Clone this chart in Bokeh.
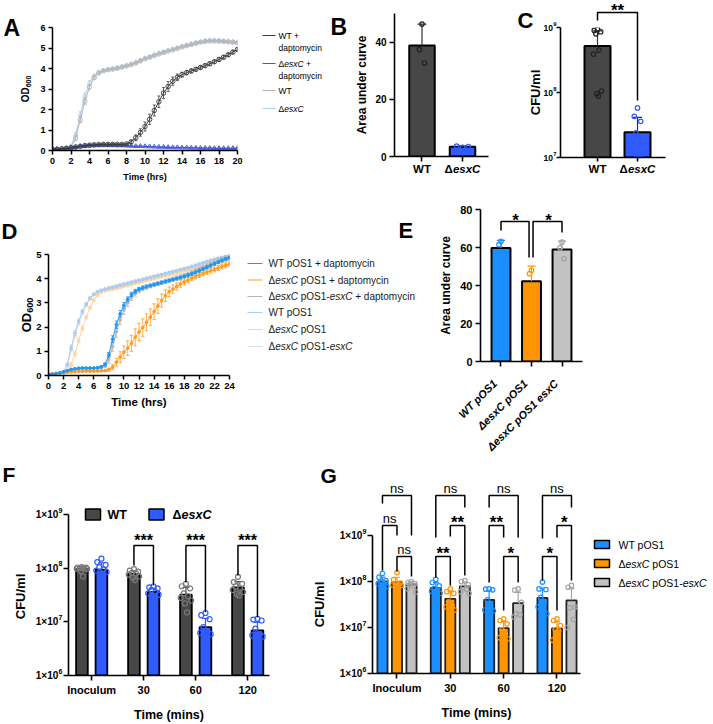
import numpy as np
from math import log10, pi
from bokeh.plotting import figure
from bokeh.layouts import column, row
from bokeh.models import FixedTicker, Range1d
from bokeh.core.properties import value
from bokeh.embed import file_html
from bokeh.resources import INLINE

FONT = "Liberation Sans"

# ------------------------------------------------------------------ data
# A: growth curves (OD600, every 0.5 h) with and without daptomycin
A_hours = np.arange(0, 20.01, 0.5)
A_wt_dap = [0.05, 0.06, 0.08, 0.10, 0.13, 0.17, 0.21, 0.24, 0.26, 0.28, 0.29, 0.30, 0.30, 0.30, 0.30, 0.30,
            0.32, 0.42, 0.62, 0.88, 1.17, 1.52, 1.95, 2.38, 2.80, 3.12, 3.38, 3.57, 3.70, 3.80, 3.88, 3.96,
            4.05, 4.14, 4.23, 4.33, 4.44, 4.55, 4.67, 4.80, 4.93]
A_wt_dap_sd = [0.01, 0.01, 0.01, 0.02, 0.02, 0.02, 0.03, 0.03, 0.03, 0.03, 0.03, 0.03, 0.03, 0.03, 0.03, 0.03,
               0.04, 0.08, 0.14, 0.18, 0.22, 0.25, 0.27, 0.28, 0.27, 0.24, 0.20, 0.16, 0.12, 0.10, 0.09, 0.08,
               0.08, 0.08, 0.08, 0.08, 0.08, 0.08, 0.08, 0.08, 0.08]
A_esx_dap = [0.05, 0.06, 0.08, 0.10, 0.13, 0.16, 0.19, 0.21, 0.23, 0.24, 0.25, 0.25, 0.25, 0.25, 0.24, 0.24,
             0.23, 0.22, 0.21, 0.21, 0.20, 0.19, 0.18, 0.17, 0.17, 0.16, 0.15, 0.15, 0.14, 0.14, 0.13, 0.13,
             0.12, 0.12, 0.12, 0.11, 0.11, 0.11, 0.11, 0.11, 0.12]
A_esx_dap_sd = [0.01, 0.01, 0.01, 0.01, 0.02, 0.02, 0.02, 0.02, 0.02, 0.02, 0.02, 0.02, 0.02, 0.02, 0.02, 0.02,
                0.02, 0.02, 0.02, 0.02, 0.02, 0.02, 0.02, 0.02, 0.02, 0.02, 0.02, 0.02, 0.02, 0.02, 0.02, 0.02,
                0.02, 0.02, 0.02, 0.02, 0.02, 0.02, 0.02, 0.02, 0.02]
A_wt = [0.06, 0.07, 0.09, 0.12, 0.18, 0.60, 1.50, 2.40, 3.10, 3.55, 3.78, 3.89, 3.94, 3.97, 4.01, 4.07,
        4.12, 4.19, 4.27, 4.37, 4.47, 4.55, 4.63, 4.71, 4.78, 4.85, 4.91, 4.98, 5.05, 5.11, 5.17, 5.23,
        5.28, 5.32, 5.34, 5.34, 5.33, 5.32, 5.30, 5.28, 5.25]
A_wt_sd = [0.01, 0.01, 0.01, 0.02, 0.04, 0.12, 0.15, 0.15, 0.12, 0.08, 0.06, 0.05, 0.05, 0.05, 0.05, 0.05,
           0.05, 0.05, 0.05, 0.05, 0.05, 0.05, 0.05, 0.05, 0.05, 0.05, 0.05, 0.05, 0.05, 0.05, 0.05, 0.05,
           0.05, 0.05, 0.05, 0.05, 0.05, 0.05, 0.05, 0.05, 0.05]
A_esx = [0.06, 0.07, 0.09, 0.12, 0.20, 0.78, 1.75, 2.65, 3.30, 3.64, 3.82, 3.90, 3.95, 3.99, 4.03, 4.09,
         4.15, 4.22, 4.30, 4.40, 4.50, 4.58, 4.66, 4.74, 4.81, 4.88, 4.94, 5.01, 5.08, 5.14, 5.20, 5.26,
         5.31, 5.35, 5.37, 5.37, 5.36, 5.35, 5.33, 5.31, 5.28]
A_esx_sd = [0.01, 0.01, 0.01, 0.02, 0.04, 0.12, 0.15, 0.15, 0.12, 0.08, 0.06, 0.05, 0.05, 0.05, 0.05, 0.05,
            0.05, 0.05, 0.05, 0.05, 0.05, 0.05, 0.05, 0.05, 0.05, 0.05, 0.05, 0.05, 0.05, 0.05, 0.05, 0.05,
            0.05, 0.05, 0.05, 0.05, 0.05, 0.05, 0.05, 0.05, 0.05]
A_ticks_x = list(range(0, 21, 2))
A_ticks_y = [0, 1, 2, 3, 4, 5, 6]

# B: area under curve
B_groups = ["WT", "ΔesxC"]
B_mean = [38.8, 3.43]
B_sd = [7.5, 0.3]
B_points = [[46.3, 37.4, 32.7], [3.2, 3.6, 3.5]]

# C: CFU/ml
C_mean = [5.2e8, 2.45e7]
C_sd = [3.7e8, 1.7e7]
C_points = [[9.4e8, 9.0e8, 8.6e8, 8.0e8, 4.5e8, 3.9e8, 1.05e8, 9.6e7, 8.8e7],
            [5.8e7, 4.3e7, 3.6e7, 2.4e7, 1.6e7, 1.2e7, 1.1e7, 1.05e7, 1.0e7]]
C_test = "**"
C_ticks = [10 ** 7, 10 ** 8, 10 ** 9]

# D: complemented strains (OD600 every 0.5 h)
D_hours = np.arange(0, 24.01, 0.5)
D_wt_dap = [0.05, 0.06, 0.08, 0.11, 0.15, 0.20, 0.25, 0.28, 0.30, 0.31, 0.31, 0.31, 0.31, 0.32, 0.36, 0.46,
            0.85, 1.50, 2.10, 2.55, 2.90, 3.15, 3.35, 3.48, 3.57, 3.63, 3.68, 3.72, 3.76, 3.80, 3.84, 3.88,
            3.92, 3.96, 4.00, 4.04, 4.09, 4.14, 4.20, 4.26, 4.33, 4.40, 4.47, 4.54, 4.61, 4.68, 4.75, 4.81,
            4.86]
D_wt_dap_sd = [0.01, 0.01, 0.01, 0.01, 0.02, 0.02, 0.02, 0.02, 0.02, 0.02, 0.02, 0.02, 0.02, 0.03, 0.04, 0.06,
               0.10, 0.14, 0.15, 0.14, 0.12, 0.10, 0.09, 0.08, 0.07, 0.07, 0.06, 0.06, 0.06, 0.06, 0.06, 0.06,
               0.06, 0.06, 0.06, 0.06, 0.06, 0.06, 0.06, 0.06, 0.06, 0.06, 0.06, 0.06, 0.06, 0.06, 0.06, 0.06,
               0.06]
D_esx_dap = [0.05, 0.06, 0.07, 0.09, 0.11, 0.13, 0.15, 0.16, 0.17, 0.17, 0.18, 0.18, 0.18, 0.18, 0.19, 0.20,
             0.24, 0.34, 0.55, 0.76, 0.96, 1.13, 1.33, 1.58, 1.80, 1.98, 2.20, 2.41, 2.64, 2.87, 3.10, 3.30,
             3.46, 3.57, 3.68, 3.78, 3.87, 3.94, 4.02, 4.09, 4.15, 4.22, 4.27, 4.33, 4.38, 4.44, 4.50, 4.55,
             4.60]
D_esx_dap_sd = [0.01, 0.01, 0.01, 0.01, 0.01, 0.01, 0.01, 0.01, 0.01, 0.01, 0.01, 0.01, 0.01, 0.01, 0.02, 0.03,
                0.06, 0.10, 0.16, 0.22, 0.26, 0.30, 0.33, 0.35, 0.36, 0.36, 0.35, 0.34, 0.32, 0.30, 0.27, 0.24,
                0.20, 0.17, 0.15, 0.13, 0.12, 0.11, 0.10, 0.10, 0.10, 0.10, 0.10, 0.10, 0.10, 0.10, 0.10, 0.10,
                0.10]
D_cmp_dap = [0.05, 0.06, 0.08, 0.10, 0.14, 0.18, 0.22, 0.25, 0.27, 0.28, 0.28, 0.28, 0.29, 0.30, 0.33, 0.40,
             0.65, 1.20, 1.80, 2.30, 2.70, 3.00, 3.22, 3.38, 3.50, 3.58, 3.64, 3.69, 3.74, 3.79, 3.84, 3.89,
             3.94, 3.99, 4.04, 4.09, 4.14, 4.20, 4.26, 4.33, 4.40, 4.47, 4.54, 4.61, 4.68, 4.74, 4.80, 4.86,
             4.90]
D_cmp_dap_sd = [0.01, 0.01, 0.01, 0.01, 0.02, 0.02, 0.02, 0.02, 0.02, 0.02, 0.02, 0.02, 0.02, 0.03, 0.05, 0.08,
                0.15, 0.20, 0.22, 0.20, 0.17, 0.14, 0.12, 0.10, 0.09, 0.08, 0.08, 0.07, 0.07, 0.07, 0.07, 0.07,
                0.07, 0.07, 0.07, 0.07, 0.07, 0.07, 0.07, 0.07, 0.07, 0.07, 0.07, 0.07, 0.08, 0.08, 0.08, 0.08,
                0.08]
D_wt = [0.05, 0.06, 0.08, 0.10, 0.16, 0.45, 1.15, 1.75, 2.25, 2.65, 2.95, 3.20, 3.36, 3.46, 3.52, 3.57,
        3.61, 3.65, 3.69, 3.73, 3.77, 3.81, 3.85, 3.89, 3.93, 3.97, 4.01, 4.05, 4.09, 4.13, 4.17, 4.21,
        4.25, 4.29, 4.33, 4.37, 4.41, 4.45, 4.50, 4.55, 4.60, 4.65, 4.70, 4.75, 4.79, 4.83, 4.87, 4.90,
        4.93]
D_wt_sd = [0.01, 0.01, 0.01, 0.01, 0.02, 0.06, 0.10, 0.10, 0.08, 0.06, 0.05, 0.04, 0.04, 0.04, 0.04, 0.04,
           0.04, 0.04, 0.04, 0.04, 0.04, 0.04, 0.04, 0.04, 0.04, 0.04, 0.04, 0.04, 0.04, 0.04, 0.04, 0.04,
           0.04, 0.04, 0.04, 0.04, 0.04, 0.04, 0.04, 0.04, 0.04, 0.04, 0.04, 0.04, 0.05, 0.05, 0.05, 0.05,
           0.05]
D_esx = [0.05, 0.06, 0.07, 0.09, 0.12, 0.20, 0.45, 0.90, 1.45, 1.95, 2.40, 2.80, 3.12, 3.32, 3.44, 3.50,
         3.54, 3.57, 3.60, 3.64, 3.68, 3.72, 3.76, 3.80, 3.84, 3.88, 3.92, 3.96, 4.00, 4.04, 4.08, 4.12,
         4.16, 4.20, 4.24, 4.28, 4.32, 4.36, 4.40, 4.44, 4.48, 4.52, 4.56, 4.60, 4.64, 4.67, 4.70, 4.73,
         4.76]
D_esx_sd = [0.01, 0.01, 0.01, 0.01, 0.02, 0.04, 0.08, 0.10, 0.10, 0.09, 0.07, 0.06, 0.05, 0.04, 0.04, 0.04,
            0.04, 0.04, 0.04, 0.04, 0.04, 0.04, 0.04, 0.04, 0.04, 0.04, 0.04, 0.04, 0.04, 0.04, 0.04, 0.04,
            0.04, 0.04, 0.04, 0.04, 0.04, 0.04, 0.04, 0.04, 0.05, 0.05, 0.05, 0.05, 0.05, 0.05, 0.05, 0.05,
            0.05]
D_cmp = [0.05, 0.06, 0.08, 0.10, 0.15, 0.40, 1.05, 1.65, 2.15, 2.58, 2.90, 3.16, 3.33, 3.44, 3.51, 3.56,
         3.61, 3.65, 3.70, 3.74, 3.78, 3.82, 3.86, 3.90, 3.94, 3.98, 4.02, 4.06, 4.10, 4.14, 4.18, 4.22,
         4.26, 4.30, 4.34, 4.38, 4.42, 4.46, 4.51, 4.56, 4.61, 4.66, 4.71, 4.76, 4.80, 4.84, 4.88, 4.92,
         4.95]
D_cmp_sd = [0.01, 0.01, 0.01, 0.01, 0.02, 0.05, 0.08, 0.09, 0.08, 0.06, 0.05, 0.04, 0.04, 0.04, 0.04, 0.04,
            0.04, 0.04, 0.04, 0.04, 0.04, 0.04, 0.04, 0.04, 0.04, 0.04, 0.04, 0.04, 0.04, 0.04, 0.04, 0.04,
            0.04, 0.04, 0.04, 0.04, 0.04, 0.04, 0.04, 0.04, 0.05, 0.05, 0.05, 0.05, 0.05, 0.05, 0.05, 0.05,
            0.05]
D_ticks_x = list(range(0, 25, 2))
D_ticks_y = [0, 1, 2, 3, 4, 5]

# E: area under curve, complemented strains
E_groups = ["WT pOS1", "ΔesxC pOS1", "ΔesxC pOS1 esxC"]
E_mean = [59.8, 42.3, 58.9]
E_sd = [3.9, 7.9, 4.5]
E_points = [[63.3, 61.5, 54.6], [48.0, 46.2, 32.7], [62.8, 59.8, 54.1]]
E_tests = ["*", "*"]

# F: CFU/ml over time, WT vs esxC
time_groups = ["Inoculum", "30", "60", "120"]
F_wt_mean = [9.6e7, 7.8e7, 3.2e7, 4.4e7]
F_esx_mean = [9.4e7, 3.6e7, 8.0e6, 6.9e6]
F_wt_points = [[1.05e8, 1.03e8, 1.02e8, 1.0e8, 1.0e8, 9.8e7, 9.6e7, 8.8e7, 7.0e7],
               [9.6e7, 9.0e7, 8.6e7, 8.2e7, 8.0e7, 7.6e7, 7.0e7, 6.6e7, 6.0e7],
               [5.1e7, 4.6e7, 4.2e7, 3.4e7, 3.0e7, 2.8e7, 2.5e7, 2.2e7, 1.5e7],
               [6.9e7, 5.5e7, 5.1e7, 4.6e7, 4.2e7, 3.9e7, 3.6e7, 3.3e7, 3.1e7]]
F_esx_points = [[1.5e8, 1.3e8, 1.15e8, 1.05e8, 9.5e7, 9.0e7, 8.5e7, 7.4e7, 4.0e7],
                [4.6e7, 4.4e7, 4.2e7, 3.9e7, 3.6e7, 3.4e7, 3.2e7, 3.0e7, 2.9e7],
                [1.46e7, 1.33e7, 1.12e7, 8.0e6, 6.6e6, 6.2e6, 5.9e6, 5.6e6, 5.2e6],
                [1.14e7, 1.1e7, 1.06e7, 7.5e6, 6.0e6, 5.6e6, 5.3e6, 4.8e6, 4.5e6]]
F_tests = ["", "***", "***", "***"]

# G: CFU/ml over time, complemented strains
G_series = ["WT pOS1", "ΔesxC pOS1", "ΔesxC pOS1-esxC"]
G_mean = [[1.0e8, 7.3e7, 4.0e7, 4.4e7],
          [9.7e7, 4.2e7, 9.7e6, 9.5e6],
          [8.6e7, 7.8e7, 3.4e7, 3.9e7]]
G_points = [
    [[1.5e8, 1.24e8, 1.05e8, 1.0e8, 9.0e7, 8.9e7, 7.8e7],
     [1.11e8, 9.5e7, 8.0e7, 7.0e7, 6.5e7, 6.2e7, 5.5e7, 4.5e7],
     [6.9e7, 6.8e7, 6.6e7, 4.0e7, 2.6e7, 2.4e7, 2.3e7, 2.2e7],
     [9.7e7, 6.9e7, 6.7e7, 4.5e7, 3.6e7, 2.8e7, 2.0e7, 1.9e7]],
    [[1.56e8, 1.1e8, 9.2e7, 8.8e7, 8.5e7, 8.4e7, 8.2e7],
     [6.9e7, 6.0e7, 5.5e7, 3.6e7, 3.0e7, 2.8e7, 2.4e7],
     [1.54e7, 1.42e7, 1.2e7, 9.0e6, 7.3e6, 6.0e6, 5.7e6],
     [1.54e7, 1.42e7, 1.1e7, 9.0e6, 8.5e6, 5.3e6]],
    [[1.0e8, 9.5e7, 9.0e7, 8.8e7, 8.0e7, 7.0e7, 5.9e7],
     [1.05e8, 1.0e8, 8.5e7, 7.5e7, 6.8e7, 6.0e7, 5.5e7],
     [6.9e7, 6.5e7, 3.5e7, 2.0e7, 1.9e7, 1.7e7],
     [8.2e7, 7.5e7, 2.8e7, 2.7e7, 1.5e7, 1.0e7]],
]
# pairwise comparisons: (time group, series a, series b, tier, label)
G_tests = [(0, 0, 2, 0, "ns"), (0, 0, 1, 1, "ns"), (0, 1, 2, 2, "ns"),
           (1, 0, 2, 0, "ns"), (1, 1, 2, 1, "**"), (1, 0, 1, 2, "**"),
           (2, 0, 2, 0, "ns"), (2, 0, 1, 1, "**"), (2, 1, 2, 2, "*"),
           (3, 0, 2, 0, "ns"), (3, 1, 2, 1, "*"), (3, 0, 1, 2, "*")]
LOG_TICKS = [10 ** 6, 10 ** 7, 10 ** 8, 10 ** 9]

# ------------------------------------------------------------------ styling
DARK = "#474747"
BLUE = "#2f5bff"
AZURE = "#1b8fff"
ORANGE = "#ff9500"
GREY = "#c2c2c2"
G_BAR = [AZURE, ORANGE, GREY]
G_PT = [AZURE, ORANGE, "#a5a5a5"]

W_REG = {' ': 278, '+': 584, '-': 333, '1': 556, 'C': 722, 'O': 778, 'S': 667, 'T': 611, 'W': 944,
         'a': 556, 'c': 500, 'd': 556, 'e': 556, 'i': 222, 'm': 833, 'n': 556, 'o': 556, 'p': 556,
         's': 500, 't': 278, 'x': 500, 'y': 500, 'Δ': 668}
W_BOLD = {' ': 278, '+': 584, '-': 333, '1': 556, 'C': 722, 'O': 778, 'S': 667, 'T': 611, 'W': 944,
          'a': 556, 'c': 556, 'd': 611, 'e': 556, 'i': 278, 'm': 889, 'n': 611, 'o': 611, 'p': 611,
          's': 556, 't': 333, 'x': 556, 'y': 556, 'Δ': 722, 'D': 722}


def tw(s, size, bold):
    tab = W_BOLD if bold else W_REG
    return sum(tab.get(ch, 556) for ch in s) * size / 1000.0


def with_gene(label):
    """Split a strain name into (text, italic) pieces, italicising the gene name."""
    out = []
    parts = label.split("esxC")
    for i, part in enumerate(parts):
        if part:
            out.append((part, False))
        if i < len(parts) - 1:
            out.append(("esxC", True))
    return out


class Panel:
    """A figure placed at a fixed page box with a fixed plotting frame (page pixels)."""

    def __init__(self, box, frame, xr, yr, ylog=False):
        ox, oy, w, h = box
        fl, ft, fr, fb = frame
        self.fl, self.ft, self.fr, self.fb = fl, ft, fr, fb
        self.xr, self.yr, self.ylog = xr, yr, ylog
        self.p = figure(width=w, height=h, x_range=Range1d(*xr), y_range=Range1d(*yr),
                        y_axis_type="log" if ylog else "linear",
                        min_border_left=fl - ox, min_border_right=ox + w - fr,
                        min_border_top=ft - oy, min_border_bottom=oy + h - fb,
                        output_backend="svg", toolbar_location=None, tools="")
        p = self.p
        p.outline_line_color = None
        p.xgrid.visible = False
        p.ygrid.visible = False
        p.background_fill_color = "white"
        p.border_fill_color = "white"

    def X(self, px):
        return self.xr[0] + (px - self.fl) / (self.fr - self.fl) * (self.xr[1] - self.xr[0])

    def PX(self, x):
        return self.fl + (x - self.xr[0]) / (self.xr[1] - self.xr[0]) * (self.fr - self.fl)

    def Y(self, py):
        f = (self.fb - py) / (self.fb - self.ft)
        if self.ylog:
            a, b = log10(self.yr[0]), log10(self.yr[1])
            return 10 ** (a + f * (b - a))
        return self.yr[0] + f * (self.yr[1] - self.yr[0])

    def PY(self, y):
        if self.ylog:
            a, b = log10(self.yr[0]), log10(self.yr[1])
            f = (log10(y) - a) / (b - a)
        else:
            f = (y - self.yr[0]) / (self.yr[1] - self.yr[0])
        return self.fb - f * (self.fb - self.ft)

    def axes(self, tick_size, label_size, lw=1.6, tick_len=5):
        for ax in (self.p.xaxis[0], self.p.yaxis[0]):
            ax.axis_line_width = lw
            ax.axis_line_color = "black"
            ax.major_tick_line_width = lw
            ax.major_tick_line_color = "black"
            ax.major_tick_in = 0
            ax.major_tick_out = tick_len
            ax.minor_tick_line_color = None
            ax.major_label_text_font = FONT
            ax.major_label_text_font_style = "bold"
            ax.major_label_text_font_size = f"{tick_size}px"
            ax.major_label_text_color = "black"
            ax.major_label_standoff = 3
            ax.axis_label_text_font = FONT
            ax.axis_label_text_font_style = "bold"
            ax.axis_label_text_font_size = f"{label_size}px"
            ax.axis_label_text_color = "black"

    def text(self, px, py, s, size, style="bold", align="left", baseline="alphabetic", color="black",
             angle=0.0):
        self.p.text(x=[self.X(px)], y=[self.Y(py)], text=[s], text_font=value(FONT),
                    text_font_size=f"{size}px", text_font_style=style, text_align=align,
                    text_baseline=baseline, text_color=color, angle=angle, level="overlay")

    def rich(self, px, py, segs, size, bold=False, align="left", color="black"):
        widths = [tw(t, size, bold) for t, _ in segs]
        total = sum(widths)
        x = px + {"left": 0.0, "center": -total / 2, "right": -total}[align]
        for (t, it), w in zip(segs, widths):
            core = t.strip()
            lead = tw(t[:len(t) - len(t.lstrip())], size, bold)
            style = (("bold " if bold else "") + ("italic" if it else "")).strip() or "normal"
            if core:
                self.text(x + lead, py, core, size, style, "left", "middle", color)
            x += w

    def ytitle(self, px, py, s, size):
        self.text(px, py, s, size, "bold", "center", "middle", angle=pi / 2)

    def od_title(self, px, py, size):
        """Vertical 'OD600' title with a subscript wavelength."""
        sub = size * 0.7
        total = tw("OD", size, True) + tw("600", sub, True)
        start = py + total / 2
        self.text(px, start, "OD", size, "bold", "left", "middle", angle=pi / 2)
        self.text(px + size * 0.28, start - tw("OD", size, True), "600", sub, "bold", "left", "middle",
                  angle=pi / 2)

    def log_ticklabels(self, ticks, prefix, size, right_px):
        for t in ticks:
            py = self.PY(t)
            e = str(int(round(log10(t))))
            es = size * 0.7
            self.text(right_px, py - size * 0.42, e, es, "bold", "right", "middle")
            self.text(right_px - tw(e, es, True) - 0.3, py, prefix + "10", size, "bold", "right", "middle")

    def bracket(self, x1, x2, top_px, leg1_px, leg2_px, lw=1.5):
        yt = self.Y(top_px)
        self.p.multi_line(xs=[[x1, x1, x2, x2]], ys=[[self.Y(leg1_px), yt, yt, self.Y(leg2_px)]],
                          line_color="black", line_width=lw, level="overlay")


SWARM = [0.0, -0.8, 0.8, -0.4, 0.4, -1.0, 1.0, -0.2, 0.2, -0.6, 0.6]


def dots(P, x0, vals, half, color, size=5.0, lw=1.2):
    xs = [x0 + SWARM[i % len(SWARM)] * half for i in range(len(vals))]
    P.p.scatter(x=xs, y=vals, marker="circle", size=size, line_color=color, fill_color=None, line_width=lw)


def err_up(P, xs, tops, sds, color, cap, lw=1.3):
    hi = [t + s for t, s in zip(tops, sds)]
    P.p.segment(x0=xs, y0=tops, x1=xs, y1=hi, line_color=color, line_width=lw)
    P.p.scatter(x=xs, y=hi, marker="dash", size=cap, line_color=color, line_width=lw)


def curve(P, t, y, sd, color, marker, msize, cap, fill=None, lw=1.0):
    y = np.asarray(y)
    sd = np.asarray(sd)
    P.p.segment(x0=t, y0=y - sd, x1=t, y1=y + sd, line_color=color, line_width=0.8)
    P.p.scatter(x=np.concatenate([t, t]), y=np.concatenate([y - sd, y + sd]), marker="dash",
                size=cap, line_color=color, line_width=0.8)
    P.p.line(x=t, y=y, line_color=color, line_width=lw)
    P.p.scatter(x=t, y=y, marker=marker, size=msize, line_color=color, fill_color=fill, line_width=0.9)


def legend_line(P, x0, x1, py, color, marker, msize, fill=None):
    y = P.Y(py)
    P.p.line(x=[P.X(x0), P.X(x1)], y=[y, y], line_color=color, line_width=1.0, level="overlay")
    P.p.scatter(x=[P.X((x0 + x1) / 2)], y=[y], marker=marker, size=msize, line_color=color,
                fill_color=fill, line_width=0.9, level="overlay")


def swatch(P, px, py, w, h, color):
    P.p.rect(x=[P.X(px)], y=[P.Y(py)], width=w, height=h, width_units="screen", height_units="screen",
             fill_color=color, line_color="black", line_width=1.5, level="overlay")


def blank_labels(ticks):
    return {t: "" for t in ticks}


# ------------------------------------------------------------------ A
PA = Panel((0, 0, 328, 190), (52, 27, 237, 150), (0, 20), (0, 6))
PA.axes(9, 9, lw=1.5, tick_len=4)
pa = PA.p
pa.xaxis.ticker = FixedTicker(ticks=A_ticks_x)
pa.yaxis.ticker = FixedTicker(ticks=A_ticks_y)
pa.xaxis.axis_label = "Time (hrs)"
pa.xaxis.axis_label_standoff = 5
PA.od_title(25, (PA.ft + PA.fb) / 2, 10)
A_series = [("WT + daptomycin", A_wt_dap, A_wt_dap_sd, "#3a3a3a", "circle"),
            ("ΔesxC + daptomycin", A_esx_dap, A_esx_dap_sd, "#3d55e0", "triangle"),
            ("WT", A_wt, A_wt_sd, "#b4b4b4", "circle"),
            ("ΔesxC", A_esx, A_esx_sd, "#b2d1ef", "triangle")]
for name, ys, sds, col, mk in reversed(A_series):
    curve(PA, A_hours, ys, sds, col, mk, 4.5, 3, fill=None, lw=1.0)
A_leg_rows = [[35, 47], [63, 75], [90], [108]]
for (name, ys, sds, col, mk), rows in zip(A_series, A_leg_rows):
    legend_line(PA, 262, 275, rows[0], col, mk, 5)
    if "daptomycin" in name:
        first = name.replace(" daptomycin", "")
        PA.rich(278, rows[0], with_gene(first), 8.5)
        PA.rich(278, rows[1], [("daptomycin", False)], 8.5)
    else:
        PA.rich(278, rows[0], with_gene(name), 8.5)
PA.text(3, 27, "A", 23)

# ------------------------------------------------------------------ B
PB = Panel((328, 0, 177, 190), (394, 13, 488, 156), (-0.679, 1.642), (0, 50))
PB.axes(10, 12)
pb = PB.p
pb.xaxis.ticker = FixedTicker(ticks=[0, 1])
pb.xaxis.major_label_overrides = blank_labels([0, 1])
pb.yaxis.ticker = FixedTicker(ticks=[0, 20, 40])
pb.yaxis.axis_label = "Area under curve"
pb.yaxis.axis_label_standoff = 3
B_x = [0, 1]
pb.vbar(x=B_x, top=B_mean, bottom=0, width=0.63, fill_color=[DARK, BLUE], line_color="black", line_width=2)
err_up(PB, B_x, B_mean, B_sd, "#333333", 9, lw=1.2)
dots(PB, 0, B_points[0], 0.08, "#222222", 4.5)
dots(PB, 1, B_points[1], 0.18, BLUE, 4.5)
for i, g in enumerate(B_groups):
    PB.rich(PB.PX(B_x[i]), 168, with_gene(g), 11.5, bold=True, align="center")
PB.text(330, 26, "B", 23)

# ------------------------------------------------------------------ C
PC = Panel((505, 0, 208, 190), (560, 27, 665, 157), (-0.925, 1.7), (1e7, 1e9), ylog=True)
PC.axes(10, 13, tick_len=4)
pc = PC.p
pc.xaxis.ticker = FixedTicker(ticks=[0, 1])
pc.xaxis.major_label_overrides = blank_labels([0, 1])
pc.yaxis.ticker = FixedTicker(ticks=C_ticks)
pc.yaxis.major_label_overrides = blank_labels(C_ticks)
PC.log_ticklabels(C_ticks, "", 8.5, 556)
PC.ytitle(535, (PC.ft + PC.fb) / 2, "CFU/ml", 13)
C_x = [0, 1]
pc.vbar(x=C_x, top=C_mean, bottom=1e7, width=0.65, fill_color=[DARK, BLUE], line_color="black", line_width=2)
err_up(PC, C_x, C_mean, C_sd, "#333333", 9, lw=1.2)
dots(PC, 0, C_points[0], 0.1, "#222222", 4.5)
dots(PC, 1, C_points[1], 0.1, BLUE, 4.5)
for i, g in enumerate(B_groups):
    PC.rich(PC.PX(C_x[i]), 168, with_gene(g), 11.5, bold=True, align="center")
PC.bracket(0, 1, 12, 20, 100)
PC.text(617, 10, C_test, 17, align="center")
PC.text(517, 20, "C", 22)

# ------------------------------------------------------------------ D
PD = Panel((0, 190, 420, 267), (48, 254, 229, 375), (0, 24), (0, 5))
PD.axes(9.5, 11.5, lw=1.5, tick_len=4)
pd = PD.p
pd.xaxis.ticker = FixedTicker(ticks=D_ticks_x)
pd.yaxis.ticker = FixedTicker(ticks=D_ticks_y)
pd.xaxis.axis_label = "Time (hrs)"
pd.xaxis.axis_label_standoff = 4
PD.od_title(26, (PD.ft + PD.fb) / 2, 13)
D_series = [("WT pOS1 + daptomycin", D_wt_dap, D_wt_dap_sd, "#2196f3"),
            ("ΔesxC pOS1 + daptomycin", D_esx_dap, D_esx_dap_sd, "#ff9b1a"),
            ("ΔesxC pOS1-esxC + daptomycin", D_cmp_dap, D_cmp_dap_sd, "#b5b5b5"),
            ("WT pOS1", D_wt, D_wt_sd, "#a9cdf4"),
            ("ΔesxC pOS1", D_esx, D_esx_sd, "#ffd39e"),
            ("ΔesxC pOS1-esxC", D_cmp, D_cmp_sd, "#dedede")]
for idx in [5, 4, 3, 2, 1, 0]:
    name, ys, sds, col = D_series[idx]
    curve(PD, D_hours, ys, sds, col, "circle", 2.8, 3.5, fill=col, lw=1.0)
D_leg_rows = [263, 279.5, 296, 312, 329, 346]
for (name, ys, sds, col), ry in zip(D_series, D_leg_rows):
    legend_line(PD, 247, 262, ry, col, "circle", 3.5, fill=col)
    PD.rich(268, ry, with_gene(name), 10, color="#1a1a1a")
PD.text(1, 231, "D", 22)
PD.text(398, 230, "E", 22)

# ------------------------------------------------------------------ E
PE = Panel((420, 190, 293, 267), (480, 209, 582, 361), (-0.672, 2.672), (0, 80))
PE.axes(11, 12)
pe = PE.p
E_x = [0, 1, 2]
pe.xaxis.ticker = FixedTicker(ticks=E_x)
pe.xaxis.major_label_overrides = blank_labels(E_x)
pe.yaxis.ticker = FixedTicker(ticks=[0, 20, 40, 60, 80])
pe.yaxis.axis_label = "Area under curve"
pe.yaxis.axis_label_standoff = 4
for i, g in enumerate(E_groups):
    PE.text(PE.PX(E_x[i]) - 6, 381, g, 11, "bold italic", "right", "middle", angle=pi / 4)
pe.vbar(x=E_x, top=E_mean, bottom=0, width=0.62, fill_color=G_BAR, line_color="black", line_width=2)
for i in range(3):
    err_up(PE, [E_x[i]], [E_mean[i]], [E_sd[i]], G_PT[i], 8, lw=1.2)
    dots(PE, E_x[i], E_points[i], 0.08, G_PT[i], 4.5)
PE.bracket(0, 0.92, 221, 230, 257)
PE.bracket(1.05, 2, 221, 257, 232)
PE.text(515, 220, E_tests[0], 17, align="center")
PE.text(548, 220, E_tests[1], 17, align="center")

# ------------------------------------------------------------------ F
PF = Panel((0, 457, 310, 267), (68, 514, 269, 675), (-0.446, 3.419), (1e6, 1e9), ylog=True)
PF.axes(10, 12.5)
pf = PF.p
pf.xaxis.ticker = FixedTicker(ticks=[0, 1, 2, 3])
pf.xaxis.major_label_overrides = {i: g for i, g in enumerate(time_groups)}
pf.xaxis.major_label_text_font_size = "11px"
pf.xaxis.axis_label = "Time (mins)"
pf.xaxis.axis_label_standoff = 9
pf.yaxis.ticker = FixedTicker(ticks=LOG_TICKS)
pf.yaxis.major_label_overrides = blank_labels(LOG_TICKS)
PF.log_ticklabels(LOG_TICKS, "1×", 10, 62)
PF.ytitle(20, 596, "CFU/ml", 13)
F_off = 0.1875
F_xw = [g - F_off for g in range(4)]
F_xe = [g + F_off for g in range(4)]
pf.vbar(x=F_xw, top=F_wt_mean, bottom=1e6, width=0.225, fill_color=DARK, line_color="black", line_width=1.8)
pf.vbar(x=F_xe, top=F_esx_mean, bottom=1e6, width=0.225, fill_color=BLUE, line_color="black", line_width=1.8)
err_up(PF, F_xw, F_wt_mean, [float(np.std(v, ddof=1)) for v in F_wt_points], "#555555", 7, lw=1.2)
err_up(PF, F_xe, F_esx_mean, [float(np.std(v, ddof=1)) for v in F_esx_points], BLUE, 7, lw=1.2)
for g in range(4):
    dots(PF, F_xw[g], F_wt_points[g], 0.1, "#7a7a7a", 5)
    dots(PF, F_xe[g], F_esx_points[g], 0.1, BLUE, 5)
F_legs = [None, (565, 585), (581.7, 611.7), (575, 616.7)]
for g in range(4):
    if F_tests[g]:
        PF.bracket(F_xw[g], F_xe[g], 545, F_legs[g][0], F_legs[g][1])
        PF.text(PF.PX(g), 540, F_tests[g], 16, align="center")
swatch(PF, 92.5, 514, 15, 11, DARK)
PF.rich(107, 514, [("WT", False)], 12.5, bold=True)
swatch(PF, 156, 514, 15, 11, BLUE)
PF.rich(172, 514, with_gene("ΔesxC"), 12.5, bold=True)
PF.text(2, 474, "F", 21)

# ------------------------------------------------------------------ G
PG = Panel((310, 457, 403, 267), (372, 535, 580, 673), (-0.459, 3.441), (1e6, 1e9), ylog=True)
PG.axes(10, 12.5)
pg = PG.p
pg.xaxis.ticker = FixedTicker(ticks=[0, 1, 2, 3])
pg.xaxis.major_label_overrides = {i: g for i, g in enumerate(time_groups)}
pg.xaxis.major_label_text_font_size = "11px"
pg.xaxis.axis_label = "Time (mins)"
pg.xaxis.axis_label_standoff = 9
pg.yaxis.ticker = FixedTicker(ticks=LOG_TICKS)
pg.yaxis.major_label_overrides = blank_labels(LOG_TICKS)
PG.log_ticklabels(LOG_TICKS, "1×", 10, 366)
PG.ytitle(319, 604, "CFU/ml", 13)
G_off = 0.272
for s in range(3):
    xs = [g + (s - 1) * G_off for g in range(4)]
    pg.vbar(x=xs, top=G_mean[s], bottom=1e6, width=0.19, fill_color=G_BAR[s], line_color="#222222",
            line_width=1.8)
    err_up(PG, xs, G_mean[s], [float(np.std(v, ddof=1)) for v in G_points[s]], G_PT[s], 6, lw=1.2)
    for g in range(4):
        dots(PG, xs[g], G_points[s][g], 0.08, G_PT[s], 4.5)
TIER_PX = [495, 525, 556]
G_legs = [(503, 535), (570, 535), (571, 576),
          (537, 507), (536, 575), (577, 585),
          (507, 537), (582, 537), (610, 582),
          (538, 507), (537, 580), (580, 610)]
for (g, a, b, tier, lab), (l1, l2) in zip(G_tests, G_legs):
    xa = g + (a - 1) * G_off
    xb = g + (b - 1) * G_off
    PG.bracket(xa, xb, TIER_PX[tier], l1, l2)
    cx = PG.PX((xa + xb) / 2)
    if lab == "ns":
        PG.text(cx, TIER_PX[tier] - 7, lab, 13, style="normal", align="center")
    else:
        PG.text(cx, TIER_PX[tier] - 3, lab, 17, align="center")
G_leg_rows = [544, 563, 582]
for s, ry in enumerate(G_leg_rows):
    swatch(PG, 601.5, ry, 15, 8, G_BAR[s])
    PG.rich(618, ry, with_gene(G_series[s]), 10.5)
PG.text(320, 475, "G", 21)

# each figure sits in its own column so that rows do not line up the plot frames
layout = column(row(column(PA.p), column(PB.p), column(PC.p)),
                row(column(PD.p), column(PE.p)),
                row(column(PF.p), column(PG.p)))
open("out.html", "w").write(file_html(layout, INLINE))
